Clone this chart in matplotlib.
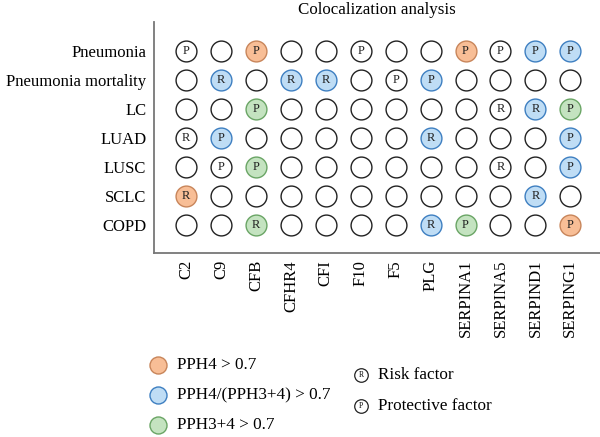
import matplotlib
matplotlib.use("Agg")
import matplotlib.pyplot as plt

plt.rcParams['font.family'] = ['Liberation Serif', 'DejaVu Serif']

outcomes = ["Pneumonia", "Pneumonia mortality", "LC", "LUAD", "LUSC", "SCLC", "COPD"]
genes = ["C2", "C9", "CFB", "CFHR4", "CFI", "F10", "F5", "PLG",
         "SERPINA1", "SERPINA5", "SERPIND1", "SERPING1"]

# o = PPH4 > 0.7, b = PPH4/(PPH3+4) > 0.7, g = PPH3+4 > 0.7, . = none
evidence = [
    "..o.....o.bb",
    ".b.bb..b....",
    "..g.......bg",
    ".b.....b...b",
    "..g........b",
    "o.........b.",
    "..g....bg..o",
]
# R = risk factor, P = protective factor, . = no direction
direction = [
    "P.P..P..PPPP",
    ".R.RR.PP....",
    "..P......RRP",
    "RP.....R...P",
    ".PP......R.P",
    "R.........R.",
    "..R....RP..P",
]

fills = {"o": "#f8be96", "b": "#bfddf5", "g": "#c4e3c0", ".": "white"}
edges = {"o": "#c8855a", "b": "#3e7fc1", "g": "#6aa565", ".": "#222222"}

legend_items = [("o", "PPH4 > 0.7"), ("b", "PPH4/(PPH3+4) > 0.7"), ("g", "PPH3+4 > 0.7")]
factor_items = [("R", "Risk factor"), ("P", "Protective factor")]

fig = plt.figure(figsize=(6, 4.37), dpi=100)
ax = fig.add_axes([154 / 600, 1 - 253 / 437, 1 - 154 / 600, (253 - 22) / 437])

for i, row in enumerate(outcomes):
    for j, g in enumerate(genes):
        c = evidence[i][j]
        ax.scatter(j, i, s=225, facecolor=fills[c], edgecolor=edges[c],
                   linewidth=1.0, zorder=3, clip_on=False)
        d = direction[i][j]
        if d != ".":
            ax.text(j, i, d, ha="center", va="center", fontsize=9,
                    color="#222222", zorder=4)

ax.set_xlim(-0.92, 11.85)
ax.set_ylim(6.97, -1.0)
ax.set_xticks(range(len(genes)))
ax.set_xticklabels(genes, rotation=90, fontsize=12)
ax.set_yticks(range(len(outcomes)))
ax.set_yticklabels(outcomes, fontsize=12)
ax.tick_params(axis="x", length=0, pad=5)
ax.tick_params(axis="y", length=0, pad=5.5)
for s in ["top", "right"]:
    ax.spines[s].set_visible(False)
for s in ["left", "bottom"]:
    ax.spines[s].set_color("#777777")
    ax.spines[s].set_linewidth(1.3)
ax.set_title("Colocalization analysis", fontsize=12.2, pad=6)

# legend drawn in pixel coordinates
lg = fig.add_axes([0, 0, 1, 1])
lg.set_xlim(0, 600)
lg.set_ylim(437, 0)
lg.axis("off")
lg.patch.set_alpha(0)
for k, (c, label) in enumerate(legend_items):
    y = 365 + k * 30
    lg.scatter(158, y, s=150, facecolor=fills[c], edgecolor=edges[c], linewidth=1.0)
    lg.text(177, y, label, va="center", fontsize=12.3)
for k, (d, label) in enumerate(factor_items):
    y = 375 + k * 31
    lg.scatter(361, y, s=95, facecolor="white", edgecolor="#222222", linewidth=0.9)
    lg.text(361, y, d, ha="center", va="center", fontsize=5.5)
    lg.text(378, y, label, va="center", fontsize=12.3)

fig.savefig("out.png", dpi=100)
